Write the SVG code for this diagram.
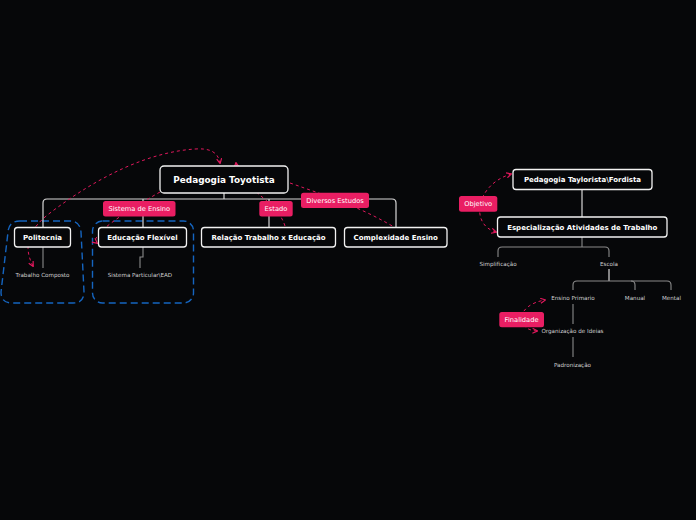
<svg xmlns="http://www.w3.org/2000/svg" width="696" height="520" viewBox="0 0 696 520">
<defs>
<style>
.bg{fill:#060709}
.node{fill:#060709;stroke:#f2f2f2;stroke-width:1.3}
.t{font-family:"DejaVu Sans",Verdana,sans-serif;fill:#ffffff;text-anchor:middle;font-weight:bold}
.main{font-size:8.9px}
.sub{font-size:7px}
.small{font-family:"DejaVu Sans",Verdana,sans-serif;fill:#d0d0d0;text-anchor:middle;font-size:5.6px}
.conn{fill:none;stroke:#d8d8d8;stroke-width:1.2}
.conn2{fill:none;stroke:#8a8a8a;stroke-width:1.1}
.rel{fill:none;stroke:#e0185c;stroke-width:1;stroke-dasharray:3 3}
.lab{fill:#e91e63}
.lt{font-family:"DejaVu Sans",Verdana,sans-serif;fill:#ffffff;text-anchor:middle;font-size:6.7px}
.bound{fill:none;stroke:#1565c0;stroke-width:1.4;stroke-dasharray:7 4}
</style>
<marker id="ah" viewBox="0 0 6 6" refX="5" refY="3" markerWidth="6" markerHeight="6" markerUnits="userSpaceOnUse" orient="auto-start-reverse">
<path d="M0.5,0.5 L5.5,3 L0.5,5.5" fill="none" stroke="#e0185c" stroke-width="1.2"/>
</marker>
</defs>
<rect class="bg" x="0" y="0" width="696" height="520"/>

<g id="boundaries">
<path class="bound" d="M20 221 H70 Q80 221 81 232 L84 292 Q84 303 73 303 H12 Q1 303 1 292 L8 232 Q9 221 20 221 Z"/>
<rect class="bound" x="92.5" y="221" width="101" height="82" rx="10"/>
</g>

<g id="connectors">
<path class="conn" d="M224 193 V199"/>
<path class="conn" d="M43 228 V203 Q43 199 47 199 H392 Q396 199 396 203 V228"/>
<path class="conn" d="M143 199 V228"/>
<path class="conn" d="M269 199 V228"/>
<path class="conn2" d="M43 247 V268"/>
<path class="conn2" d="M143 247 V257 H140 V268"/>
<path class="conn" d="M582 189 V217"/>
<path class="conn2" d="M582 237 V247"/>
<path class="conn2" d="M498 257 V251 Q498 247 502 247 H605 Q609 247 609 251 V257"/>
<path class="conn" d="M609 269 V281"/>
<path class="conn2" d="M573 290 V285 Q573 281 577 281 H667 Q671 281 671 285 V290"/>
<path class="conn2" d="M631 281 Q635 281 635 285 V290"/>
<path class="conn2" d="M573 304 V324"/>
<path class="conn2" d="M573 337 V357"/>
</g>

<g id="relations">
<path class="rel" d="M33 266 C22 245 30 228 50 213 C100 175 150 152 195 149 C210 148 218 152 220 163" marker-start="url(#ah)" marker-end="url(#ah)"/>
<path class="rel" d="M160 192 C125 212 88 236 97 243" marker-end="url(#ah)"/>
<path class="rel" d="M285 226 C278 205 262 200 250 185 C242 175 237 170 236 163" marker-end="url(#ah)"/>
<path class="rel" d="M290 183 C330 197 360 207 394 227"/>
<path class="rel" d="M496 232 C470 225 475 185 511 174" marker-start="url(#ah)" marker-end="url(#ah)"/>
<path class="rel" d="M537 331 C515 330 515 305 545 300" marker-start="url(#ah)" marker-end="url(#ah)"/>
</g>

<g id="pedagogia-toyotista">
<rect class="node" x="160" y="166" width="128" height="27" rx="4"/>
<text class="t main" x="224" y="183">Pedagogia Toyotista</text>
</g>
<g id="politecnia">
<rect class="node" x="14.5" y="227.5" width="56" height="19.5" rx="3"/>
<text class="t sub" x="42.5" y="240">Politecnia</text>
</g>
<g id="educacao-flexivel">
<rect class="node" x="98.5" y="227.5" width="88" height="19.5" rx="3"/>
<text class="t sub" x="142.5" y="240">Educação Flexível</text>
</g>
<g id="relacao">
<rect class="node" x="201.5" y="227.5" width="134" height="19.5" rx="3"/>
<text class="t sub" x="268.5" y="240">Relação Trabalho x Educação</text>
</g>
<g id="complexidade">
<rect class="node" x="344.5" y="227.5" width="102.5" height="19.5" rx="3"/>
<text class="t sub" x="395.7" y="240">Complexidade Ensino</text>
</g>
<g id="trabalho-composto"><text class="small" x="42.5" y="277">Trabalho Composto</text></g>
<g id="sistema-particular"><text class="small" x="140" y="277">Sistema Particular\EAD</text></g>

<g id="taylorista">
<rect class="node" x="513" y="169.5" width="139" height="20" rx="3"/>
<text class="t sub" x="582.5" y="182">Pedagogia Taylorista\Fordista</text>
</g>
<g id="especializacao">
<rect class="node" x="497.5" y="217" width="169.5" height="20" rx="3"/>
<text class="t sub" x="582.3" y="229.5">Especialização Atividades de Trabalho</text>
</g>
<g id="simplificacao"><text class="small" x="498" y="266">Simplificação</text></g>
<g id="escola"><text class="small" x="609" y="266">Escola</text></g>
<g id="ensino-primario"><text class="small" x="573" y="300">Ensino Primario</text></g>
<g id="manual"><text class="small" x="635" y="300">Manual</text></g>
<g id="mental"><text class="small" x="671.5" y="300">Mental</text></g>
<g id="organizacao"><text class="small" x="572.5" y="333">Organização de Ideias</text></g>
<g id="padronizacao"><text class="small" x="572.5" y="367">Padronização</text></g>

<g id="labels">
<g id="lab-sistema"><rect class="lab" x="103" y="201" width="72.5" height="15.5" rx="2.5"/><text class="lt" x="139.3" y="211.3">Sistema de Ensino</text></g>
<g id="lab-estado"><rect class="lab" x="259.3" y="201" width="33.4" height="15.5" rx="2.5"/><text class="lt" x="276" y="211.3">Estado</text></g>
<g id="lab-diversos"><rect class="lab" x="301" y="192.7" width="68" height="15.3" rx="2.5"/><text class="lt" x="335" y="202.9">Diversos Estudos</text></g>
<g id="lab-objetivo"><rect class="lab" x="459" y="196" width="38.3" height="15.7" rx="2.5"/><text class="lt" x="478.2" y="206.3">Objetivo</text></g>
<g id="lab-finalidade"><rect class="lab" x="499.3" y="312" width="44.7" height="15.3" rx="2.5"/><text class="lt" x="521.6" y="322.1">Finalidade</text></g>
</g>
</svg>
